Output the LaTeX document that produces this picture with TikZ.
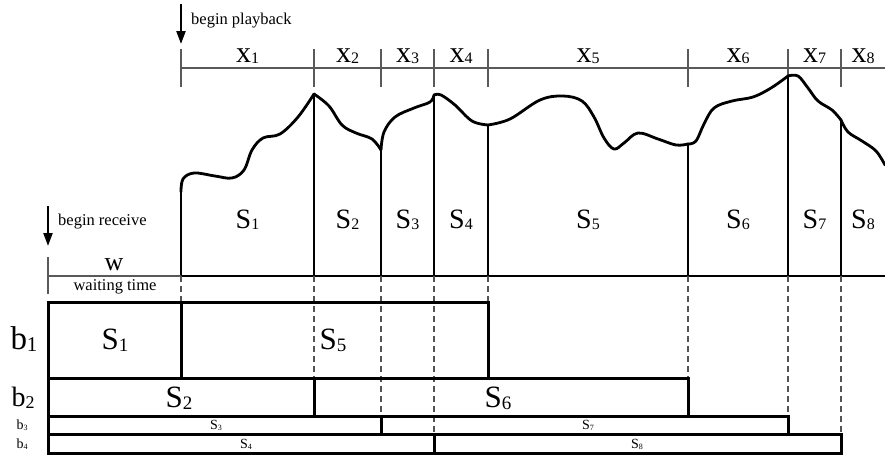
\documentclass[tikz,border=0pt]{standalone}
\usepackage{fontspec}
\setmainfont{Liberation Serif}
\usetikzlibrary{arrows.meta}

% letter with a lowered index, each at its own size
\newcommand{\lbl}[4]{{\fontsize{#1}{#1}\selectfont #3}{\fontsize{#2}{#2}\selectfont\raisebox{-0.12em}{#4}}}

\begin{document}
\begin{tikzpicture}[
  x=1pt, y=-1pt,
  ruler/.style={gray!70!black, line width=1.2pt},
  bar/.style={line width=2.8pt, line cap=round},
  buf/.style={draw, line width=3pt},
  guide/.style={gray!65!black, line width=1.2pt, dash pattern=on 6pt off 4pt},
  wave/.style={line width=2.8pt, line cap=round},
  cue/.style={-{Triangle[length=13pt,width=9pt]}, line width=2.2pt},
  note/.style={font=\fontsize{16.5}{16.5}\selectfont, inner sep=0pt, anchor=base west},
  lab/.style={inner sep=0pt, anchor=base},
  mid/.style={inner sep=0pt},
]
\useasboundingbox (0,0) rectangle (885,455);

% ---------- segment boundaries on the time line ----------
\foreach \n/\x in {0/181,1/314,2/381,3/434,4/488,5/688,6/788,7/841,8/885}
  \coordinate (k\n) at (\x,276);
\coordinate (w0) at (48,276);

% ---------- playback ruler with x_i ----------
\coordinate (rulL) at (181,68);
\coordinate (rulR) at (885,68);
\draw[ruler] (rulL) -- (rulR);
\foreach \x in {181,314,381,434,488,688,788,841}
  \draw[ruler] (\x,49) -- (\x,87);
\foreach \a/\b/\i in {181/314/1,314/381/2,381/434/3,434/488/4,488/688/5,688/788/6,788/841/7,841/885/8}
  \node[lab] (x\i) at ({(\a+\b)/2},62) {\lbl{30}{16}{x}{\i}};

\coordinate (playT) at (181,4);
\coordinate (playB) at (181,44);
\draw[cue] (playT) -- (playB);
\node[note] (play) at (191,24) {begin playback};

% ---------- rate curve ----------
\draw[wave] plot[smooth, tension=0.6] coordinates
  {(181,192) (183,179) (194,173) (215,176) (232,178) (244,170) (252,150) (263,138) (280,134) (298,117) (314,94)};
\draw[wave] plot[smooth, tension=0.6] coordinates
  {(314,94) (329,106) (342,125) (356,133) (372,139) (381,150)};
\draw[wave] plot[smooth, tension=0.6] coordinates
  {(381,150) (384,132) (395,117) (414,108) (430,102) (434,95)};
\draw[wave] plot[smooth, tension=0.6] coordinates
  {(434,95) (441,95) (455,105) (472,121) (488,125)};
\draw[wave] plot[smooth, tension=0.6] coordinates
  {(488,125) (510,119) (540,100) (563,96) (582,101) (594,117) (604,138) (614,149) (624,143) (638,133) (658,139) (676,145) (688,144)};
\draw[wave] plot[smooth, tension=0.6] coordinates
  {(688,144) (696,141) (704,124) (714,108) (732,101) (753,97) (771,88) (788,76)};
\draw[wave] plot[smooth, tension=0.6] coordinates
  {(788,76) (798,76) (808,88) (818,101) (832,110) (841,120)};
\draw[wave] plot[smooth, tension=0.6] coordinates
  {(841,120) (848,132) (862,141) (876,151) (885,165)};

\foreach \x/\y in {181/192,314/94,381/150,434/95,488/125,688/144,788/76,841/120}
  \draw[bar] (\x,\y) -- (\x,276);
\draw[bar] (k0) -- (k8);

\foreach \a/\b/\i in {181/314/1,314/381/2,381/434/3,434/488/4,488/688/5,688/788/6,788/841/7,841/885/8}
  \node[lab] (s\i) at ({(\a+\b)/2},228) {\lbl{28}{16}{S}{\i}};

% ---------- waiting time ----------
\coordinate (recT) at (48,206);
\coordinate (recB) at (48,246);
\draw[cue] (recT) -- (recB);
\node[note] (rec) at (58,225) {begin receive};

\draw[ruler] (w0) -- (k0);
\draw[ruler] (48,257) -- (48,294);
\node[lab] (w) at (114,270) {\fontsize{26}{26}\selectfont w};
\node[lab, font=\fontsize{16.5}{16.5}\selectfont] (wt) at (115,290) {waiting time};

% ---------- dashed guides down to the buffers ----------
\foreach \x/\y in {181/302,314/378,381/416,434/434,488/302,688/378,788/416,841/434}
  \draw[guide] (\x,276) -- (\x,\y);

% ---------- buffers b1..b4 ----------
\draw[buf] (48,302) rectangle (488,378);
\draw[buf] (181,302) -- (181,378);
\draw[buf] (48,378) rectangle (688,416);
\draw[buf] (314,378) -- (314,416);
\draw[buf] (48,416) rectangle (788,434);
\draw[buf] (381,416) -- (381,434);
\draw[buf] (48,434) rectangle (841,453);
\draw[buf] (434,434) -- (434,453);

\node[mid] (b1) at (24,339) {\lbl{33}{21}{b}{1}};
\node[mid] (b2) at (23,398) {\lbl{28}{18}{b}{2}};
\node[mid] (b3) at (22,425) {\lbl{14}{8}{b}{3}};
\node[mid] (b4) at (22,444) {\lbl{14}{8}{b}{4}};

\node[mid] (bs1) at (115,340) {\lbl{31}{19}{S}{1}};
\node[mid] (bs5) at (333,340) {\lbl{31}{19}{S}{5}};
\node[mid] (bs2) at (179,398) {\lbl{31}{19}{S}{2}};
\node[mid] (bs6) at (498,398) {\lbl{31}{19}{S}{6}};
\node[mid] (bs3) at (216,425) {\lbl{14}{8}{S}{3}};
\node[mid] (bs7) at (588,425) {\lbl{14}{8}{S}{7}};
\node[mid] (bs4) at (246,444) {\lbl{14}{8}{S}{4}};
\node[mid] (bs8) at (637,444) {\lbl{14}{8}{S}{8}};

\end{tikzpicture}
\end{document}
